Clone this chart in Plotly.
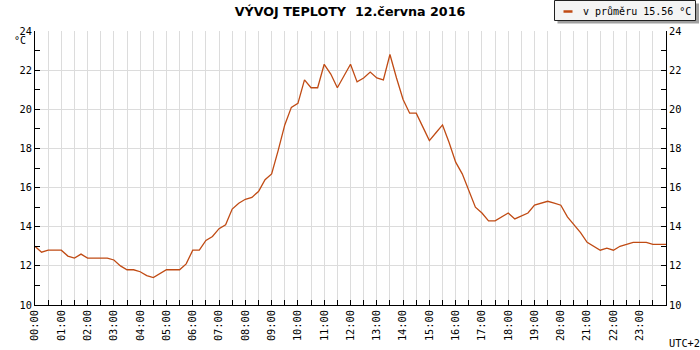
import plotly.graph_objects as go

# ---- data ----
times = [
    "00:00","00:15","00:30","00:45","01:00","01:15","01:30","01:45",
    "02:00","02:15","02:30","02:45","03:00","03:15","03:30","03:45",
    "04:00","04:15","04:30","04:45","05:00","05:15","05:30","05:45",
    "06:00","06:15","06:30","06:45","07:00","07:15","07:30","07:45",
    "08:00","08:15","08:30","08:45","09:00","09:15","09:30","09:45",
    "10:00","10:15","10:30","10:45","11:00","11:15","11:30","11:45",
    "12:00","12:15","12:30","12:45","13:00","13:15","13:30","13:45",
    "14:00","14:15","14:30","14:45","15:00","15:15","15:30","15:45",
    "16:00","16:15","16:30","16:45","17:00","17:15","17:30","17:45",
    "18:00","18:15","18:30","18:45","19:00","19:15","19:30","19:45",
    "20:00","20:15","20:30","20:45","21:00","21:15","21:30","21:45",
    "22:00","22:15","22:30","22:45","23:00","23:15","23:30","23:45",
    "24:00",
]
temperature = [
    13.0, 12.7, 12.8, 12.8, 12.8, 12.5, 12.4, 12.6,
    12.4, 12.4, 12.4, 12.4, 12.3, 12.0, 11.8, 11.8,
    11.7, 11.5, 11.4, 11.6, 11.8, 11.8, 11.8, 12.1,
    12.8, 12.8, 13.3, 13.5, 13.9, 14.1, 14.9, 15.2,
    15.4, 15.5, 15.8, 16.4, 16.7, 17.9, 19.2, 20.1,
    20.3, 21.5, 21.1, 21.1, 22.3, 21.8, 21.1, 21.7,
    22.3, 21.4, 21.6, 21.9, 21.6, 21.5, 22.8, 21.6,
    20.5, 19.8, 19.8, 19.1, 18.4, 18.8, 19.2, 18.3,
    17.3, 16.7, 15.9, 15.0, 14.7, 14.3, 14.3, 14.5,
    14.7, 14.4, 14.55, 14.7, 15.1, 15.2, 15.3, 15.2,
    15.1, 14.5, 14.1, 13.7, 13.2, 13.0, 12.8, 12.9,
    12.8, 13.0, 13.1, 13.2, 13.2, 13.2, 13.1, 13.1,
    13.1,
]
hour_labels = ["%02d:00" % h for h in range(24)]
title_text = "VÝVOJ TEPLOTY \u00a012.června 2016"
legend_text = "v průměru 15.56 °C"
unit_text = "°C"
tz_text = "UTC+2"

LINE_COLOR = "#c04b14"
GRID = "#dcdcdc"
MONO = "DejaVu Sans Mono"

W, H = 700, 350
L, R, T, B = 35, 34, 31, 45
PW, PH = W - L - R, H - T - B


def px(x):
    return (x - L) / PW


def py(y):
    return (H - B - y) / PH


hours = [int(t[:2]) + int(t[3:]) / 60 for t in times]

fig = go.Figure()
fig.add_trace(go.Scatter(
    x=hours, y=temperature, mode="lines",
    line=dict(color=LINE_COLOR, width=1.3),
    name=legend_text, showlegend=False, hoverinfo="skip",
))
# same series bound to the right-hand axis (transparent) so that axis is drawn
fig.add_trace(go.Scatter(
    x=hours, y=temperature, mode="lines", yaxis="y2",
    line=dict(color="rgba(0,0,0,0)", width=0), opacity=0,
    showlegend=False, hoverinfo="skip",
))

axis_common = dict(
    showline=True, linecolor="black", linewidth=1,
    ticks="inside", ticklen=5, tickcolor="black", tickwidth=1,
    tickfont=dict(family=MONO, size=10.3, color="black"),
    zeroline=False, automargin=False, fixedrange=True,
)

fig.update_layout(
    template="none",
    width=W, height=H,
    margin=dict(l=L, r=R, t=T, b=B, pad=0),
    paper_bgcolor="white", plot_bgcolor="white",
    showlegend=False,
    title=dict(
        text=title_text, x=0.5, xanchor="center", y=1 - 12 / H, yanchor="middle",
        font=dict(family="DejaVu Sans", size=12.7, color="black", weight="bold"),
    ),
    xaxis=dict(
        range=[0, 24],
        tickmode="array", tickvals=list(range(24)), ticktext=hour_labels,
        tickangle=-90,
        showgrid=True, gridcolor=GRID, gridwidth=1,
        minor=dict(dtick=0.5, tick0=0, ticks="inside", ticklen=5,
                   tickcolor="black", showgrid=True, gridcolor=GRID, gridwidth=1),
        **axis_common,
    ),
    yaxis=dict(
        range=[10, 24], dtick=2, tick0=10,
        showgrid=True, gridcolor=GRID, gridwidth=1,
        minor=dict(dtick=1, ticks="inside", ticklen=5, tickcolor="black", showgrid=False),
        **axis_common,
    ),
    yaxis2=dict(
        range=[10, 24], dtick=2, tick0=10, overlaying="y", side="right",
        showgrid=False,
        minor=dict(dtick=1, ticks="inside", ticklen=5, tickcolor="black", showgrid=False),
        **axis_common,
    ),
)

# legend box (drawn manually to match the compact original)
shapes = [
    dict(type="rect", xref="paper", yref="paper",
         x0=px(557.5), x1=px(699), y0=py(23.5), y1=py(3.5),
         fillcolor="#a0a0a0", line=dict(width=0), layer="above"),
    dict(type="rect", xref="paper", yref="paper",
         x0=px(554.5), x1=px(695.5), y0=py(20.5), y1=py(0.5),
         fillcolor="#f4f4f4", line=dict(color="#202020", width=1), layer="above"),
    dict(type="line", xref="paper", yref="paper",
         x0=px(563.5), x1=px(572.5), y0=py(11.5), y1=py(11.5),
         line=dict(color=LINE_COLOR, width=2.5), layer="above"),
]
fig.update_layout(shapes=shapes)

fig.add_annotation(text=legend_text, xref="paper", yref="paper",
                   x=px(581), y=py(11), xanchor="left", yanchor="middle",
                   showarrow=False, font=dict(family=MONO, size=10, color="black"))
fig.add_annotation(text=unit_text, xref="paper", yref="paper",
                   x=px(28), y=py(40), xanchor="right", yanchor="middle",
                   showarrow=False, font=dict(family=MONO, size=10, color="black"))
fig.add_annotation(text=tz_text, xref="paper", yref="paper",
                   x=px(667), y=py(343), xanchor="left", yanchor="middle",
                   showarrow=False, font=dict(family=MONO, size=10.3, color="black"))

fig.write_html(
    "out.html",
    config={"displayModeBar": False, "staticPlot": True},
    post_script="document.body.style.margin='0';document.body.style.padding='0';",
)
